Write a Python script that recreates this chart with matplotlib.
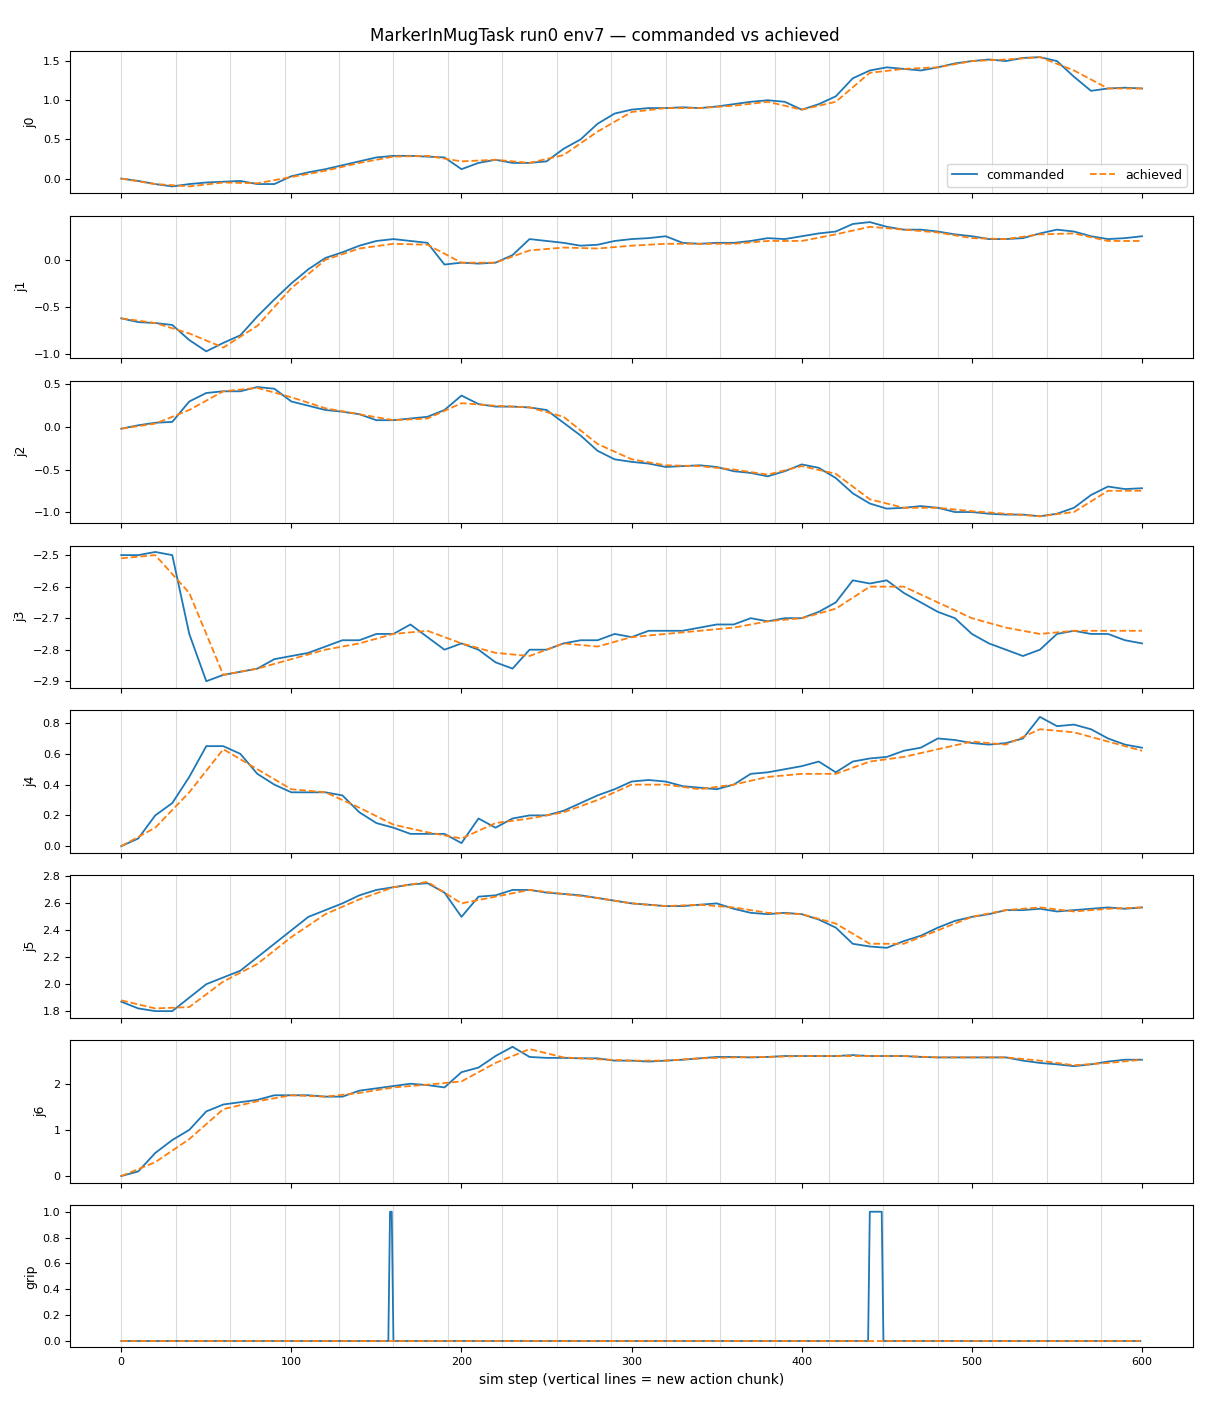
import numpy as np
from matplotlib import pyplot as plt

# commanded joint values, sampled every 10 sim steps
steps_cmd = np.arange(0, 601, 10)
commanded = {
    'j0': [0.0, -0.03, -0.07, -0.1, -0.07, -0.05, -0.04, -0.03, -0.07, -0.07, 0.03, 0.08, 0.12, 0.17, 0.22, 0.27,
           0.29, 0.29, 0.28, 0.27, 0.12, 0.2, 0.24, 0.2, 0.2, 0.22, 0.38, 0.5, 0.7, 0.83, 0.88, 0.9, 0.9, 0.91,
           0.9, 0.92, 0.95, 0.98, 1.0, 0.98, 0.88, 0.95, 1.05, 1.28, 1.38, 1.42, 1.4, 1.38, 1.42, 1.47, 1.5, 1.52,
           1.5, 1.54, 1.55, 1.5, 1.3, 1.12, 1.15, 1.16, 1.15],
    'j1': [-0.62, -0.66, -0.67, -0.69, -0.85, -0.97, -0.88, -0.8, -0.6, -0.42, -0.25, -0.1, 0.02, 0.08, 0.15, 0.2,
           0.22, 0.2, 0.18, -0.05, -0.03, -0.04, -0.03, 0.05, 0.22, 0.2, 0.18, 0.15, 0.16, 0.2, 0.22, 0.23, 0.25,
           0.18, 0.17, 0.18, 0.18, 0.2, 0.23, 0.22, 0.25, 0.28, 0.3, 0.38, 0.4, 0.35, 0.32, 0.32, 0.3, 0.27, 0.25,
           0.22, 0.22, 0.23, 0.28, 0.32, 0.3, 0.25, 0.22, 0.23, 0.25],
    'j2': [-0.02, 0.02, 0.05, 0.06, 0.3, 0.4, 0.42, 0.42, 0.47, 0.45, 0.3, 0.25, 0.2, 0.18, 0.15, 0.08, 0.08, 0.1,
           0.12, 0.2, 0.37, 0.27, 0.24, 0.24, 0.23, 0.2, 0.05, -0.1, -0.28, -0.38, -0.41, -0.43, -0.47, -0.46,
           -0.45, -0.47, -0.52, -0.54, -0.58, -0.52, -0.44, -0.48, -0.6, -0.78, -0.9, -0.96, -0.95, -0.93, -0.95,
           -1.0, -1.0, -1.02, -1.03, -1.03, -1.05, -1.02, -0.95, -0.8, -0.7, -0.73, -0.72],
    'j3': [-2.5, -2.5, -2.49, -2.5, -2.75, -2.9, -2.88, -2.87, -2.86, -2.83, -2.82, -2.81, -2.79, -2.77, -2.77,
           -2.75, -2.75, -2.72, -2.76, -2.8, -2.78, -2.8, -2.84, -2.86, -2.8, -2.8, -2.78, -2.77, -2.77, -2.75,
           -2.76, -2.74, -2.74, -2.74, -2.73, -2.72, -2.72, -2.7, -2.71, -2.7, -2.7, -2.68, -2.65, -2.58, -2.59,
           -2.58, -2.62, -2.65, -2.68, -2.7, -2.75, -2.78, -2.8, -2.82, -2.8, -2.75, -2.74, -2.75, -2.75, -2.77,
           -2.78],
    'j4': [0.0, 0.05, 0.2, 0.28, 0.45, 0.65, 0.65, 0.6, 0.47, 0.4, 0.35, 0.35, 0.35, 0.33, 0.22, 0.15, 0.12, 0.08,
           0.08, 0.08, 0.02, 0.18, 0.12, 0.18, 0.2, 0.2, 0.23, 0.28, 0.33, 0.37, 0.42, 0.43, 0.42, 0.39, 0.38,
           0.37, 0.4, 0.47, 0.48, 0.5, 0.52, 0.55, 0.48, 0.55, 0.57, 0.58, 0.62, 0.64, 0.7, 0.69, 0.67, 0.66,
           0.67, 0.7, 0.84, 0.78, 0.79, 0.76, 0.7, 0.66, 0.64],
    'j5': [1.87, 1.82, 1.8, 1.8, 1.9, 2.0, 2.05, 2.1, 2.2, 2.3, 2.4, 2.5, 2.55, 2.6, 2.66, 2.7, 2.72, 2.74, 2.75,
           2.68, 2.5, 2.65, 2.66, 2.7, 2.7, 2.68, 2.67, 2.66, 2.64, 2.62, 2.6, 2.59, 2.58, 2.58, 2.59, 2.6, 2.56,
           2.53, 2.52, 2.53, 2.52, 2.48, 2.42, 2.3, 2.28, 2.27, 2.32, 2.36, 2.42, 2.47, 2.5, 2.52, 2.55, 2.55,
           2.56, 2.54, 2.55, 2.56, 2.57, 2.56, 2.57],
    'j6': [0.0, 0.1, 0.5, 0.78, 1.0, 1.4, 1.55, 1.6, 1.65, 1.75, 1.75, 1.75, 1.72, 1.72, 1.85, 1.9, 1.95, 2.0,
           1.97, 1.92, 2.25, 2.35, 2.6, 2.8, 2.58, 2.56, 2.56, 2.55, 2.55, 2.5, 2.5, 2.48, 2.5, 2.52, 2.55, 2.58,
           2.58, 2.57, 2.58, 2.6, 2.6, 2.6, 2.6, 2.62, 2.6, 2.6, 2.6, 2.58, 2.57, 2.57, 2.57, 2.57, 2.57, 2.5,
           2.45, 2.42, 2.38, 2.42, 2.48, 2.52, 2.52],
}

# achieved joint values, sampled every 20 sim steps
steps_ach = np.arange(0, 601, 20)
achieved = {
    'j0': [0.0, -0.07, -0.1, -0.05, -0.06, 0.02, 0.1, 0.2, 0.28, 0.29, 0.22, 0.24, 0.2, 0.3, 0.6, 0.85, 0.9, 0.9,
           0.93, 0.98, 0.88, 0.98, 1.35, 1.4, 1.42, 1.5, 1.52, 1.55, 1.38, 1.15, 1.15],
    'j1': [-0.62, -0.67, -0.78, -0.93, -0.7, -0.3, 0.0, 0.12, 0.17, 0.16, -0.03, -0.03, 0.1, 0.13, 0.12, 0.15,
           0.17, 0.17, 0.17, 0.2, 0.2, 0.27, 0.35, 0.32, 0.29, 0.23, 0.22, 0.27, 0.28, 0.2, 0.2],
    'j2': [-0.02, 0.04, 0.2, 0.42, 0.46, 0.35, 0.22, 0.15, 0.08, 0.1, 0.28, 0.25, 0.23, 0.12, -0.2, -0.38, -0.45,
           -0.46, -0.5, -0.56, -0.46, -0.55, -0.85, -0.95, -0.95, -0.99, -1.02, -1.05, -1.0, -0.75, -0.75],
    'j3': [-2.51, -2.5, -2.62, -2.88, -2.86, -2.83, -2.8, -2.78, -2.75, -2.74, -2.78, -2.81, -2.82, -2.78, -2.79,
           -2.76, -2.75, -2.74, -2.73, -2.71, -2.7, -2.67, -2.6, -2.6, -2.65, -2.7, -2.73, -2.75, -2.74, -2.74,
           -2.74],
    'j4': [0.0, 0.12, 0.35, 0.63, 0.5, 0.37, 0.35, 0.25, 0.14, 0.09, 0.05, 0.15, 0.18, 0.22, 0.3, 0.4, 0.4, 0.37,
           0.4, 0.45, 0.47, 0.47, 0.55, 0.58, 0.63, 0.68, 0.66, 0.76, 0.74, 0.68, 0.62],
    'j5': [1.88, 1.82, 1.83, 2.02, 2.15, 2.35, 2.52, 2.63, 2.72, 2.76, 2.6, 2.65, 2.7, 2.67, 2.64, 2.6, 2.58, 2.59,
           2.57, 2.53, 2.52, 2.45, 2.3, 2.3, 2.4, 2.5, 2.55, 2.57, 2.54, 2.56, 2.57],
    'j6': [0.0, 0.3, 0.8, 1.45, 1.62, 1.75, 1.72, 1.8, 1.92, 1.98, 2.05, 2.45, 2.75, 2.57, 2.53, 2.5, 2.5, 2.55,
           2.57, 2.58, 2.6, 2.6, 2.6, 2.6, 2.57, 2.57, 2.57, 2.5, 2.4, 2.45, 2.52],
}

# gripper: commanded closes briefly twice, achieved never moves
grip_steps = np.arange(0, 600)
grip_cmd = np.zeros(len(grip_steps))
grip_cmd[158:160] = 1.0
grip_cmd[440:448] = 1.0
grip_ach = np.zeros(len(grip_steps))

chunk = 32
names = list(commanded.keys()) + ['grip']

fig, axes = plt.subplots(len(names), 1, figsize=(12.1, 14.08), sharex=True)
fig.subplots_adjust(left=0.058, right=0.986, top=0.964, bottom=0.043, hspace=0.16)

for ax, name in zip(axes, names):
    for x in range(0, 600, chunk):
        ax.axvline(x, color='lightgrey', lw=0.8, alpha=0.8, zorder=0)
    if name == 'grip':
        ax.plot(grip_steps, grip_cmd, color='C0', lw=1.3, label='commanded')
        ax.plot(grip_steps, grip_ach, color='C1', ls='--', lw=1.3, label='achieved')
    else:
        ax.plot(steps_cmd, commanded[name], color='C0', lw=1.3, label='commanded')
        ax.plot(steps_ach, achieved[name], color='C1', ls='--', lw=1.3, label='achieved')
    ax.set_ylabel(name, fontsize=9)
    ax.tick_params(labelsize=8)

axes[6].set_yticks([0, 1, 2])
axes[0].legend(loc='lower right', ncol=2, fontsize=9)
axes[-1].set_xlabel('sim step (vertical lines = new action chunk)', fontsize=10)
fig.suptitle('MarkerInMugTask run0 env7 \u2014 commanded vs achieved', fontsize=12, y=0.981)
plt.savefig('out.png', dpi=100)
